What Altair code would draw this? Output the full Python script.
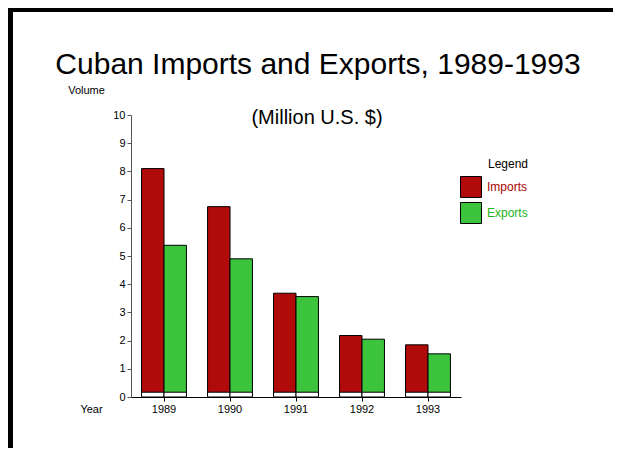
import altair as alt
import pandas as pd

years = ["1989", "1990", "1991", "1992", "1993"]
imports = [8.1, 6.75, 3.68, 2.18, 1.85]
exports = [5.38, 4.9, 3.56, 2.05, 1.53]
series = ["Imports", "Exports"]
colors = ["#b00a0a", "#3cc43c"]
label_colors = ["#aa0000", "#22b422"]

rows = []
for y, i, e in zip(years, imports, exports):
    rows.append({"Year": y, "Series": "Imports", "Value": i})
    rows.append({"Year": y, "Series": "Exports", "Value": e})
df = pd.DataFrame(rows)

W, H = 330, 282
PL, PT, PR, PB = 123, 107, 152, 51
FONT = "Liberation Sans"

x_axis = alt.Axis(title="Year", labelAngle=0, labelFontSize=11, labelFont=FONT,
                  labelColor="black", tickSize=4, tickColor="black",
                  domainColor="black", labelPadding=2,
                  titleFontSize=11, titleFont=FONT, titleFontWeight="normal",
                  titleX=-40, titleY=12, titleAlign="center",
                  titleBaseline="middle", titleColor="black", grid=False)
x_scale = alt.Scale(paddingInner=0.32, paddingOuter=0.16)

y_axis = alt.Axis(title="Volume", values=list(range(11)), labelOverlap=False,
                  labelFontSize=11,
                  labelFont=FONT, labelColor="black", tickSize=4,
                  tickColor="#555555", domainColor="#555555",
                  labelPadding=2, grid=False,
                  titleAngle=0, titleX=-45, titleY=-25, titleAlign="center",
                  titleBaseline="middle", titleFontSize=11, titleFont=FONT,
                  titleFontWeight="normal", titleColor="black")
y_scale = alt.Scale(domain=[0, 10], nice=False)

color_enc = alt.Color("Series:N", sort=series,
                      scale=alt.Scale(domain=series, range=colors),
                      legend=alt.Legend(title="Legend", orient="none", legendX=329, legendY=44,
                                        symbolType="square", symbolSize=440,
                                        symbolStrokeColor="black", symbolStrokeWidth=1,
                                        symbolOpacity=1,
                                        labelFont=FONT, labelFontSize=12,
                                        labelColor=alt.ExprRef(expr="datum.value === 'Imports' ? '%s' : '%s'" % (label_colors[0], label_colors[1])),
                                        titleFont=FONT, titleFontSize=12, titleFontWeight="normal",
                                        titleColor="black", titleAnchor="end", titlePadding=5,
                                        rowPadding=0, labelOffset=5))

bars = alt.Chart(df).mark_bar(stroke="black", strokeWidth=1).encode(
    x=alt.X("Year:N", sort=years, scale=x_scale, axis=x_axis),
    xOffset=alt.XOffset("Series:N", sort=series),
    y=alt.Y("Value:Q", scale=y_scale, axis=y_axis),
    color=color_enc,
)

base_strip = alt.Chart(df).transform_calculate(base="0.17", zero="0").mark_bar(
    fill="white", stroke="black", strokeWidth=1
).encode(
    x=alt.X("Year:N", sort=years, scale=x_scale, axis=x_axis),
    xOffset=alt.XOffset("Series:N", sort=series),
    y=alt.Y("zero:Q", scale=y_scale, axis=y_axis),
    y2=alt.Y2("base:Q"),
)

one = pd.DataFrame({"a": [0]})

title = alt.Chart(one).mark_text(text="Cuban Imports and Exports, 1989-1993", font=FONT,
                                 fontSize=30, align="center", baseline="alphabetic",
                                 color="black").encode(x=alt.value(187), y=alt.value(-41))
subtitle = alt.Chart(one).mark_text(text="(Million U.S. $)", font=FONT, fontSize=20,
                                    align="center", baseline="alphabetic",
                                    color="black").encode(x=alt.value(186), y=alt.value(9))

top_line = alt.Chart(one).mark_rule(color="black", strokeWidth=4).encode(
    x=alt.value(-PL), x2=alt.value(W + PR), y=alt.value(-PT + 2))
left_line = alt.Chart(one).mark_rule(color="black", strokeWidth=5).encode(
    x=alt.value(-PL + 2.5), y=alt.value(-PT), y2=alt.value(H + PB))

chart = alt.layer(bars, base_strip, title, subtitle, top_line, left_line).properties(
    width=W, height=H,
    padding={"left": PL, "top": PT, "right": PR, "bottom": PB},
    autosize=alt.AutoSizeParams(type="none"),
    background="white",
).configure_view(strokeWidth=0)

chart.save("out.html", embed_options={"renderer": "svg", "actions": False})
